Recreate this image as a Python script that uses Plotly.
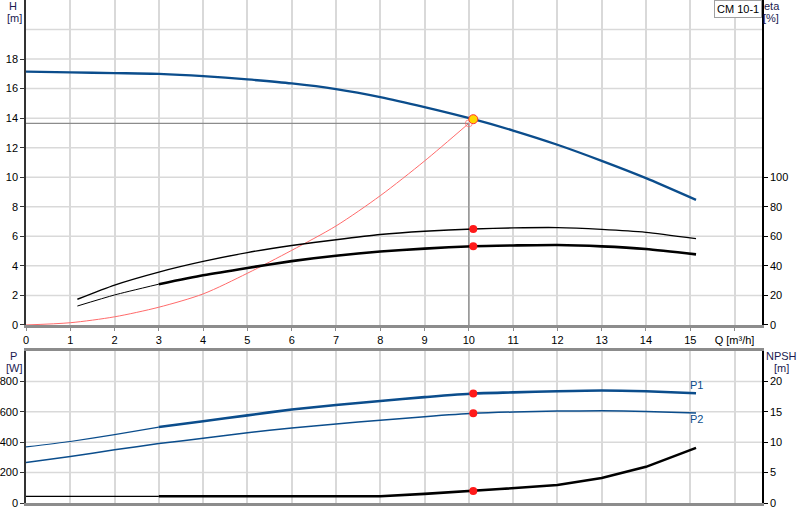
import plotly.graph_objects as go

# flow axis [m3/h]
q_head = [0, 1, 2, 3, 4, 5, 6, 7, 8, 9, 10.1, 11, 12, 13, 14, 15.13]
head = [17.15, 17.1, 17.05, 17.0, 16.85, 16.62, 16.35, 15.97, 15.43, 14.75, 13.93, 13.16, 12.2, 11.11, 9.94, 8.47]

q_sys = [0, 1, 2, 3, 4, 5, 6, 7, 8, 9, 10.0]
h_sys = [0, 0.15, 0.55, 1.2, 2.1, 3.5, 5.05, 6.7, 8.75, 11.1, 13.65]

# efficiency curves [%]
q_eta = [1.16, 2, 3, 4, 5, 6, 7, 8, 9, 10.1, 11, 12, 13, 14, 15.13]
eta_upper = [17.4, 27, 35.8, 43, 49, 53.8, 57.7, 61.2, 63.4, 65, 65.7, 65.9, 64.7, 62.7, 58.4]
eta_lower = [12.8, 20.3, 27.6, 33.6, 38.6, 43.2, 46.9, 49.7, 51.7, 53.3, 53.8, 54.1, 53.2, 51.4, 47.8]

# power [W] and NPSH [m]
q_pow = [0, 1, 2, 3, 4, 5, 6, 7, 8, 9, 10.1, 11, 12, 13, 14, 15.13]
p1 = [369, 405, 450, 500, 538, 577, 615, 645, 672, 697, 721, 728, 736, 741, 736, 723]
p2 = [267, 306, 350, 391, 426, 463, 494, 520, 545, 568, 590, 599, 605, 607, 603, 592]
q_npsh = [0, 3, 8, 9, 10.1, 10.7, 12, 13, 14, 15.13]
npsh = [1.1, 1.1, 1.1, 1.5, 1.97, 2.3, 2.95, 4.1, 5.95, 9.07]

duty_q, duty_h = 10.0, 13.65
op_q = 10.1
op_h, op_eta1, op_eta2 = 13.93, 65, 53.3
op_p1, op_p2, op_npsh = 721, 590, 1.97

x_ticks = list(range(17))
x_text = [str(v) for v in range(16)] + ["Q [m³/h]"]

BLUE = "#0b4d8c"
GRID = "#d9d9d9"
FONT = "Liberation Sans"

fig = go.Figure()

def split(xs, ys, at):
    a = [(x, y) for x, y in zip(xs, ys) if x <= at]
    b = [(x, y) for x, y in zip(xs, ys) if x >= at]
    return list(zip(*a)), list(zip(*b))

def line(x, y, color, width, xa="x", ya="y", shape="spline"):
    fig.add_trace(go.Scatter(x=list(x), y=list(y), mode="lines", xaxis=xa, yaxis=ya,
                             line=dict(color=color, width=width, shape=shape, smoothing=0.6),
                             hoverinfo="skip", showlegend=False))

# duty lines
fig.add_trace(go.Scatter(x=[0, duty_q, duty_q], y=[duty_h, duty_h, 0], mode="lines",
                         line=dict(color="#8c8c8c", width=1.3), showlegend=False, hoverinfo="skip"))

# head curve
line(q_head, head, BLUE, 2.3)

# system curve with open circle at its end
fig.add_trace(go.Scatter(x=q_sys, y=h_sys, mode="lines+markers",
                         line=dict(color="#ff6b6b", width=1, shape="spline", smoothing=0.8),
                         marker=dict(symbol=["circle"] * (len(q_sys) - 1) + ["circle-open"],
                                     size=[0] * (len(q_sys) - 1) + [7], color="#ff6b6b"),
                         showlegend=False, hoverinfo="skip"))

# efficiency curves
line(q_eta, eta_upper, "black", 1.4, ya="y2")
(a, b), (c, d) = split(q_eta, eta_lower, 3)
line(a, b, "black", 1.0, ya="y2")
line(c, d, "black", 2.6, ya="y2")

# power curves
(a, b), (c, d) = split(q_pow, p1, 3)
line(a, b, BLUE, 1.2, xa="x2", ya="y3")
line(c, d, BLUE, 2.6, xa="x2", ya="y3")
line(q_pow, p2, BLUE, 1.5, xa="x2", ya="y3")

# NPSH
(a, b), (c, d) = split(q_npsh, npsh, 3)
line(a, b, "black", 1.3, xa="x2", ya="y4", shape="linear")
line(c, d, "black", 2.6, xa="x2", ya="y4", shape="linear")

# operating point markers
fig.add_trace(go.Scatter(x=[op_q], y=[op_h], mode="markers",
                         marker=dict(color="#ffd700", size=9, line=dict(color="#ff3030", width=1)),
                         showlegend=False, hoverinfo="skip"))
fig.add_trace(go.Scatter(x=[op_q, op_q], y=[op_eta1, op_eta2], mode="markers", yaxis="y2",
                         marker=dict(color="#ff1a1a", size=8), showlegend=False, hoverinfo="skip"))
fig.add_trace(go.Scatter(x=[op_q, op_q], y=[op_p1, op_p2], mode="markers", xaxis="x2", yaxis="y3",
                         marker=dict(color="#ff1a1a", size=8), showlegend=False, hoverinfo="skip"))
fig.add_trace(go.Scatter(x=[op_q], y=[op_npsh], mode="markers", xaxis="x2", yaxis="y4",
                         marker=dict(color="#ff1a1a", size=8), showlegend=False, hoverinfo="skip"))

tick_font = dict(family=FONT, size=11, color="black")
xr = [0, 16.62]

fig.update_layout(
    width=800, height=520,
    margin=dict(l=26, r=38, t=0, b=17),
    paper_bgcolor="white", plot_bgcolor="white",
    font=dict(family=FONT, size=11, color="black"),
    xaxis=dict(domain=[0, 1], range=xr, tickvals=x_ticks, ticktext=x_text, showgrid=True,
               gridcolor=GRID, gridwidth=1.5, showline=True, linecolor="#8c8c8c", linewidth=2.5,
               ticks="outside", ticklen=3, tickcolor="#8c8c8c", tickfont=tick_font, anchor="y",
               zeroline=False, automargin=False),
    yaxis=dict(domain=[0.354, 1], range=[0, 22], tickvals=list(range(0, 19, 2)), showgrid=False,
               showline=True, linecolor="#333333", linewidth=1.5, ticks="outside", ticklen=4,
               tickcolor="#333333", tickfont=tick_font, zeroline=False, automargin=False),
    yaxis2=dict(overlaying="y", side="right", range=[0, 22 * 10], tickvals=list(range(0, 101, 20)),
                showgrid=False, showline=True, linecolor="black", linewidth=1.5, ticks="outside",
                ticklen=4, tickcolor="black", tickfont=tick_font, zeroline=False, anchor="x",
                automargin=False),
    xaxis2=dict(domain=[0, 1], range=xr, tickvals=x_ticks, showticklabels=False, showgrid=True,
                gridcolor=GRID, gridwidth=1.5, showline=True, linecolor="#8c8c8c", linewidth=2.5,
                mirror=True, ticks="", anchor="y3", zeroline=False, automargin=False),
    yaxis3=dict(domain=[0, 0.302], range=[0, 1000], tickvals=[0, 200, 400, 600, 800], showgrid=False,
                showline=True, linecolor="#333333", linewidth=1.5, ticks="outside", ticklen=4,
                tickcolor="#333333", tickfont=tick_font, zeroline=False, anchor="x2",
                automargin=False),
    yaxis4=dict(overlaying="y3", side="right", range=[0, 25], tickvals=[0, 5, 10, 15, 20],
                showgrid=False, showline=True, linecolor="black", linewidth=1.5, ticks="outside",
                ticklen=4, tickcolor="black", tickfont=tick_font, zeroline=False, anchor="x2",
                automargin=False),
)

# horizontal grid lines drawn as shapes so the grid follows the left axes
for v in range(2, 21, 2):
    fig.add_shape(type="line", xref="x domain", yref="y", x0=0, x1=1, y0=v, y1=v,
                  line=dict(color=GRID, width=1.5), layer="below")
for v in [200, 400, 600, 800]:
    fig.add_shape(type="line", xref="x2 domain", yref="y3", x0=0, x1=1, y0=v, y1=v,
                  line=dict(color=GRID, width=1.5), layer="below")

TITLE = dict(family=FONT, size=11, color="#1a1a50")

def title(text, x, xshift, y, yshift):
    fig.add_annotation(text=text, xref="paper", yref="paper", x=x, y=y, xshift=xshift,
                       yshift=yshift, xanchor="center", yanchor="middle", showarrow=False,
                       font=TITLE)

title("H", 0, -13, 1, -6)
title("[m]", 0, -12, 1, -18)
title("eta", 1, 10, 1, -6)
title("[%]", 1, 9, 1, -18)
title("P", 0, -13, 0.302, -5)
title("[W]", 0, -12, 0.302, -17)
title("NPSH", 1, 19, 0.302, -5)
title("[m]", 1, 19, 0.302, -17)

fig.add_annotation(text="CM 10-1", xref="paper", yref="paper", x=1, y=1, xanchor="right",
                   yanchor="top", showarrow=False, bordercolor="#a0a0a0", borderwidth=1,
                   borderpad=2, bgcolor="white", font=dict(family=FONT, size=11, color="black"))
fig.add_annotation(text="P1", x=15.13, y=780, xref="x2", yref="y3", showarrow=False,
                   xanchor="center", font=dict(family=FONT, size=11, color=BLUE))
fig.add_annotation(text="P2", x=15.13, y=551, xref="x2", yref="y3", showarrow=False,
                   xanchor="center", font=dict(family=FONT, size=11, color=BLUE))

# the page's default 8px body margin would shift the whole chart
fig.write_html("out.html", config={"displayModeBar": False},
               post_script="document.body.style.margin='0';")
